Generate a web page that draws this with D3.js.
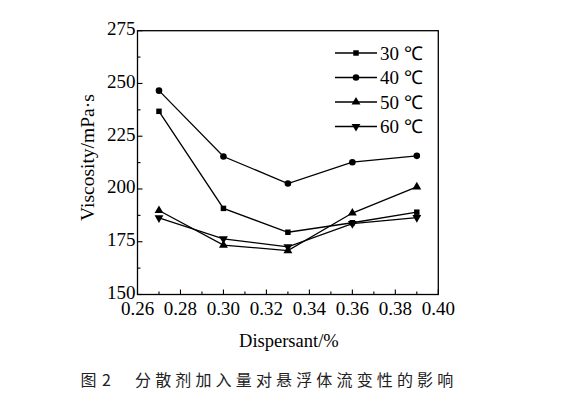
<!DOCTYPE html>
<html><head><meta charset="utf-8">
<script src="https://cdn.jsdelivr.net/npm/d3@7"></script>
<style>
html,body{margin:0;padding:0;background:#fff;}
svg{display:block;}
</style></head>
<body>
<svg id="c" width="561" height="398"></svg>
<script>
const xValues = [0.27, 0.30, 0.33, 0.36, 0.39];
const seriesNames = ["30 ℃", "40 ℃", "50 ℃", "60 ℃"];
const v30 = [236.8, 190.8, 179.5, 184.0, 189.0];
const v40 = [246.6, 215.4, 202.6, 212.7, 215.7];
const v50 = [189.8, 173.4, 170.8, 188.6, 201.0];
const v60 = [186.3, 176.4, 172.6, 183.6, 186.4];
const xTicks = [0.26, 0.28, 0.30, 0.32, 0.34, 0.36, 0.38, 0.40];
const yTicks = [150, 175, 200, 225, 250, 275];
const xLabel = "Dispersant/%";
const yLabel = "Viscosity/mPa·s";
const captionNum = "图 2";
const captionText = "分散剂加入量对悬浮体流变性的影响";

const series = [v30, v40, v50, v60];
const shapes = [d3.symbolSquare, d3.symbolCircle, d3.symbolTriangle, "down"];

const svg = d3.select("#c");
const L = 137.5, R = 438.3, T = 30.7, B = 294.5;
const x = d3.scaleLinear().domain([0.26, 0.40]).range([L, R]);
const y = d3.scaleLinear().domain([150, 275]).range([B, T]);
const font = "'Liberation Serif','Times New Roman',serif";

// frame
svg.append("rect").attr("x", L).attr("y", T).attr("width", R - L).attr("height", B - T)
  .attr("fill", "none").attr("stroke", "#000").attr("stroke-width", 1.3);

// ticks (inward)
const xMinor = d3.range(0.27, 0.40, 0.02);
const yMinor = d3.range(162.5, 275, 25);
const g = svg.append("g").attr("stroke", "#000").attr("stroke-width", 1.1);
xTicks.forEach(t => g.append("line").attr("x1", x(t)).attr("x2", x(t)).attr("y1", B).attr("y2", B - 5));
xMinor.forEach(t => g.append("line").attr("x1", x(t)).attr("x2", x(t)).attr("y1", B).attr("y2", B - 3));
yTicks.forEach(t => g.append("line").attr("x1", L).attr("x2", L + 5).attr("y1", y(t)).attr("y2", y(t)));
yMinor.forEach(t => g.append("line").attr("x1", L).attr("x2", L + 3).attr("y1", y(t)).attr("y2", y(t)));

// tick labels
svg.append("g").selectAll("text").data(xTicks).join("text")
  .attr("x", d => x(d)).attr("y", B + 20.5).attr("text-anchor", "middle")
  .attr("font-family", font).attr("font-size", 19).text(d => d.toFixed(2));
svg.append("g").selectAll("text").data(yTicks).join("text")
  .attr("x", L - 2).attr("y", d => y(d) + 4.5).attr("text-anchor", "end")
  .attr("font-family", font).attr("font-size", 19).text(d => d);

// axis labels
svg.append("text").attr("x", (L + R) / 2 + 1).attr("y", B + 52).attr("text-anchor", "middle")
  .attr("font-family", font).attr("font-size", 18.5).text(xLabel);
svg.append("text").attr("transform", `translate(94,${(T + B) / 2 - 5}) rotate(-90)`)
  .attr("text-anchor", "middle").attr("font-family", font).attr("font-size", 19.5).text(yLabel);

function drawMarker(sel, shape, cx, cy) {
  if (shape === "down") {
    sel.append("path").attr("d", d3.symbol().type(d3.symbolTriangle).size(34)())
      .attr("transform", `translate(${cx},${cy}) rotate(180)`).attr("fill", "#000");
  } else {
    const size = shape === d3.symbolSquare ? 30 : 34;
    sel.append("path").attr("d", d3.symbol().type(shape).size(size)())
      .attr("transform", `translate(${cx},${cy})`).attr("fill", "#000");
  }
}

const line = d3.line().x((d, i) => x(xValues[i])).y(d => y(d));
series.forEach((s, k) => {
  svg.append("path").attr("d", line(s)).attr("fill", "none").attr("stroke", "#000").attr("stroke-width", 1.3);
  const mg = svg.append("g");
  s.forEach((v, i) => drawMarker(mg, shapes[k], x(xValues[i]), y(v)));
});

// legend
const lg = svg.append("g");
seriesNames.forEach((n, k) => {
  const ly = 53 + k * 24.5;
  lg.append("line").attr("x1", 335).attr("x2", 377).attr("y1", ly).attr("y2", ly)
    .attr("stroke", "#000").attr("stroke-width", 1.3);
  drawMarker(lg, shapes[k], 356, ly);
  lg.append("text").attr("x", 380).attr("y", ly + 6.5).attr("font-family", font)
    .attr("font-size", 19).text(n);
});

// caption
const cf = "'Noto Sans CJK SC',sans-serif";
svg.append("text").attr("x", 80.5).attr("y", 386).attr("font-family", cf)
  .attr("font-size", 16).attr("fill", "#222").attr("letter-spacing", 1).text(captionNum);
svg.append("text").attr("x", 135).attr("y", 386).attr("font-family", cf)
  .attr("font-size", 16).attr("fill", "#222").attr("letter-spacing", 4.15).text(captionText);
</script>
</body></html>
